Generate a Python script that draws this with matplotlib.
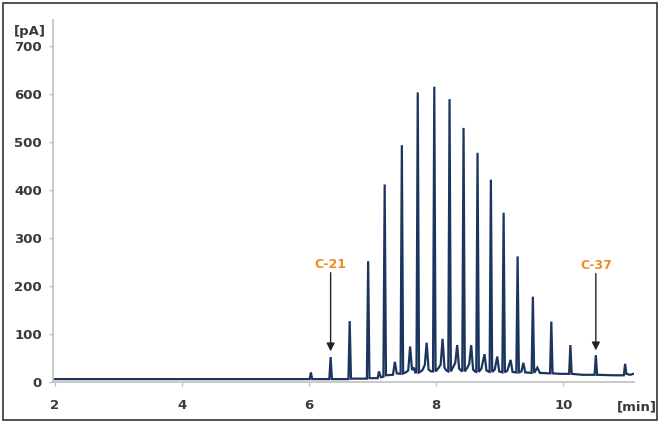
"""
Chromatogram: FID signal vs retention time, C-21 .. C-37 n-alkane series.
"""
import matplotlib
matplotlib.use("Agg")
import matplotlib.pyplot as plt
from matplotlib.patches import Rectangle

# Trace vertices (time in min, signal in pA)
RT = [
    2.00, 5.90, 6.01, 6.03, 6.05, 6.32, 6.34, 6.36, 6.62, 6.64, 6.66,
    6.91, 6.93, 6.95, 7.08, 7.10, 7.13, 7.17, 7.19, 7.21, 7.32, 7.35, 7.38,
    7.44, 7.46, 7.48, 7.52, 7.56, 7.59, 7.62, 7.65, 7.67, 7.69, 7.71, 7.73,
    7.78, 7.82, 7.85, 7.88, 7.92, 7.95, 7.97, 7.99, 8.03, 8.07, 8.10, 8.13,
    8.16, 8.19, 8.21, 8.23, 8.27, 8.30, 8.33, 8.36, 8.39, 8.41, 8.43, 8.45,
    8.49, 8.52, 8.55, 8.58, 8.61, 8.63, 8.65, 8.67, 8.71, 8.76, 8.79, 8.82,
    8.84, 8.86, 8.88, 8.92, 8.96, 8.99, 9.02, 9.04, 9.06, 9.08, 9.12, 9.17,
    9.20, 9.26, 9.28, 9.30, 9.34, 9.37, 9.40, 9.50, 9.52, 9.54, 9.59, 9.63,
    9.79, 9.81, 9.83, 9.95, 10.09, 10.11, 10.13, 10.30, 10.49, 10.51, 10.53,
    10.80, 10.95, 10.97, 10.99, 11.05, 11.10,
]
SIGNAL = [
    6, 6, 6, 20, 6, 6, 52, 6, 6, 127, 7,
    7, 252, 8, 8, 22, 10, 11, 412, 14, 15, 42, 18,
    17, 494, 18, 20, 24, 74, 25, 30, 20, 20, 604, 20,
    24, 35, 82, 26, 22, 22, 616, 22, 28, 36, 90, 30,
    24, 22, 590, 22, 32, 40, 77, 28, 24, 22, 530, 22,
    30, 38, 77, 26, 22, 21, 478, 21, 28, 58, 24, 22,
    21, 422, 21, 26, 53, 22, 21, 20, 353, 20, 24, 46,
    21, 20, 262, 20, 22, 40, 20, 19, 178, 19, 30, 19,
    18, 126, 18, 17, 17, 77, 17, 15, 15, 56, 15,
    14, 14, 38, 17, 15, 17,
]

# marked peaks: (label, retention time, arrow tail, arrow head) in pA
MARK_LABELS = ["C-21", "C-37"]
MARK_RT = [6.34, 10.51]
MARK_TAIL = [228, 226]
MARK_HEAD = [64, 66]

X_TICKS = [2, 4, 6, 8, 10]
Y_TICKS = [0, 100, 200, 300, 400, 500, 600, 700]

LINE_COLOR = "#1c355f"
LABEL_COLOR = "#f08a24"
TICK_COLOR = "#3a3a3a"
AXIS_COLOR = "#c0c0c0"

fig = plt.figure(figsize=(6.6, 4.24), dpi=100)
ax = fig.add_axes([53 / 660, 1 - 382 / 424, 581 / 660, 362 / 424])

ax.plot(RT, SIGNAL, color=LINE_COLOR, linewidth=1.6, solid_joinstyle="miter")

for label, rt, tail, head in zip(MARK_LABELS, MARK_RT, MARK_TAIL, MARK_HEAD):
    ax.annotate(
        "", xy=(rt, head), xytext=(rt, tail),
        arrowprops=dict(arrowstyle="-|>", color="#222222", lw=1.0, mutation_scale=12,
                        shrinkA=0, shrinkB=0),
    )
    ax.text(rt, tail + 4, label, color=LABEL_COLOR, fontsize=9, fontweight="bold",
            ha="center", va="bottom")

ax.set_xlim(1.975, 11.11)
ax.set_ylim(0, 755)
ax.set_xticks(X_TICKS)
ax.set_yticks(Y_TICKS)
ax.tick_params(axis="both", colors=AXIS_COLOR, labelcolor=TICK_COLOR, labelsize=9.5,
               length=3, width=1)
ax.tick_params(axis="x", pad=9)
ax.tick_params(axis="y", pad=5)
for lab in ax.get_xticklabels() + ax.get_yticklabels():
    lab.set_fontweight("bold")

for side in ("top", "right"):
    ax.spines[side].set_visible(False)
for side in ("left", "bottom"):
    ax.spines[side].set_color(AXIS_COLOR)
    ax.spines[side].set_linewidth(1.2)

fig.text(30 / 660, 1 - 31 / 424, "[pA]", color=TICK_COLOR, fontsize=9.5, fontweight="bold",
         ha="center", va="center")
fig.text(637 / 660, 1 - 407 / 424, "[min]", color=TICK_COLOR, fontsize=9.5, fontweight="bold",
         ha="center", va="center")

# thin frame around the whole picture
fig.patches.append(Rectangle((3 / 660, 4 / 424), 654 / 660, 417 / 424, transform=fig.transFigure,
                             fill=False, edgecolor="#333333", linewidth=1.2))

fig.savefig("out.png", dpi=100)
